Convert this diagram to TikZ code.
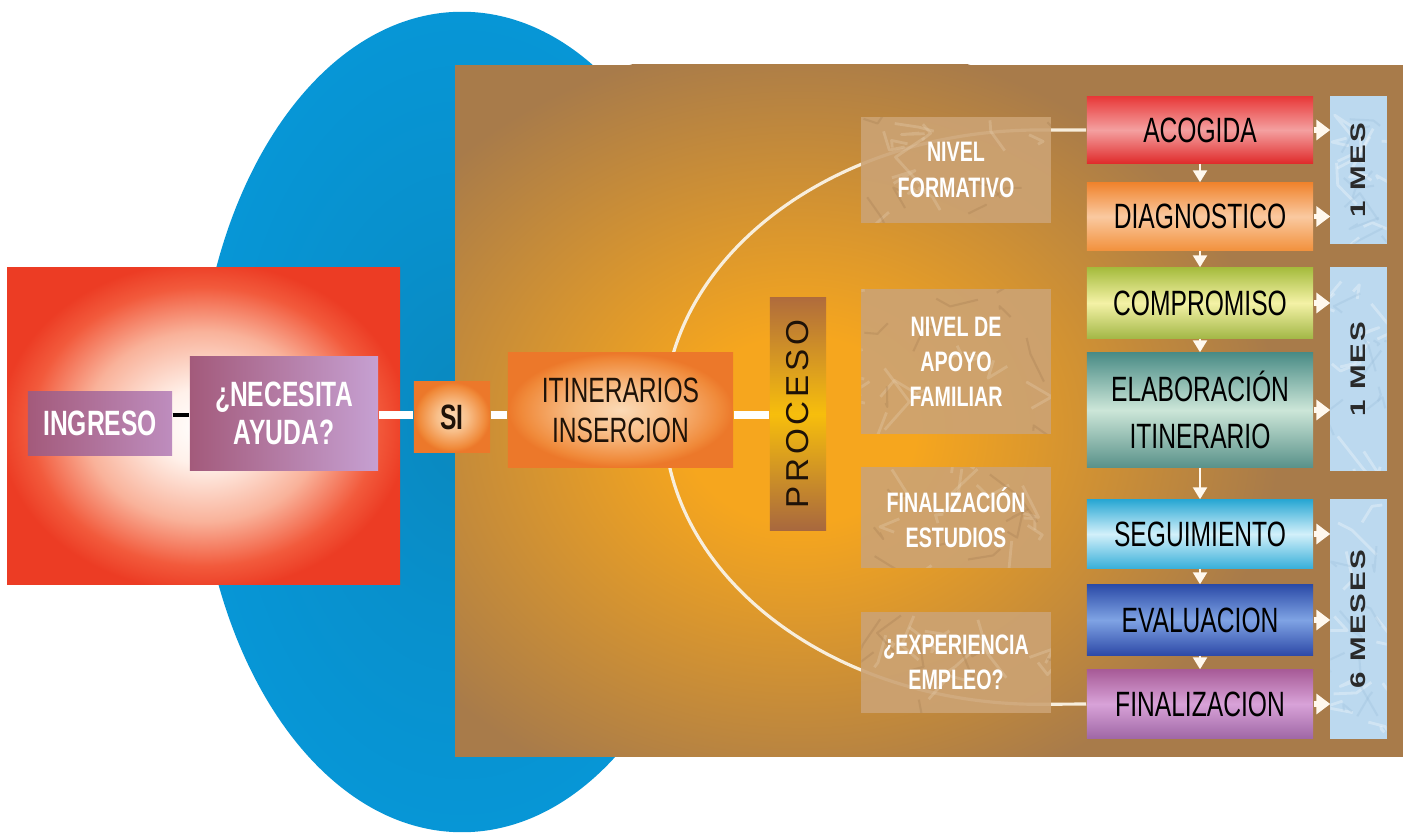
\documentclass[tikz,border=0pt]{standalone}
\usepackage{fontspec}
\usepackage{graphicx}
\setmainfont{Liberation Sans}
\newfontfamily\cond{Liberation Sans}[FakeStretch=0.7]
\newfontfamily\procfont{Liberation Sans}[FakeStretch=1.05,LetterSpace=12]
\newfontfamily\mesfont{Liberation Sans}[FakeStretch=1.4,LetterSpace=10]
\usetikzlibrary{arrows.meta,calc}

\definecolor{blueE}{HTML}{0796D6}
\definecolor{blueM}{HTML}{0890CC}
\definecolor{blueD}{HTML}{0A88BE}
\definecolor{brownbg}{HTML}{A87B4A}
\definecolor{glowC}{HTML}{F6A61E}
\definecolor{rg1}{HTML}{FFF1EA}
\definecolor{rg2}{HTML}{F9B29A}
\definecolor{rg3}{HTML}{F25A3C}
\definecolor{rg4}{HTML}{EC3C24}
\definecolor{og0}{HTML}{FBDAB6}
\definecolor{og1}{HTML}{F8BF8A}
\definecolor{og2}{HTML}{F08A3A}
\definecolor{og3}{HTML}{EC782A}
\definecolor{mauveL}{HTML}{A35A7B}
\definecolor{mauveR}{HTML}{BE8DBE}
\definecolor{mauveR2}{HTML}{C6A0D2}
\definecolor{darktext}{HTML}{1E1208}
\definecolor{procT}{HTML}{B06C3C}
\definecolor{procM}{HTML}{F7BE0C}
\definecolor{procB}{HTML}{A8683E}
\definecolor{tanC}{HTML}{CCA374}
\definecolor{tanL}{HTML}{E8D2B4}
\definecolor{tanD}{HTML}{A47C50}
\definecolor{mesB}{HTML}{BCD9EF}
\definecolor{mesD}{HTML}{9ABDDA}
\definecolor{mestext}{HTML}{2A2A2A}
\definecolor{arrW}{HTML}{FFF8EE}
\definecolor{curveW}{HTML}{F8EEDC}
\definecolor{acoT}{HTML}{E83A3A}\definecolor{acoM}{HTML}{F4A0A0}\definecolor{acoB}{HTML}{E02C2C}
\definecolor{diaT}{HTML}{F0842E}\definecolor{diaM}{HTML}{FAC9A0}\definecolor{diaB}{HTML}{F2923E}
\definecolor{comT}{HTML}{A6BC3E}\definecolor{comM}{HTML}{F4F2A6}\definecolor{comB}{HTML}{A4B848}
\definecolor{elaT}{HTML}{4A8C86}\definecolor{elaM}{HTML}{CCE6D8}\definecolor{elaB}{HTML}{5A928A}
\definecolor{segT}{HTML}{2AA8D4}\definecolor{segM}{HTML}{D2F0FA}\definecolor{segB}{HTML}{3AB0DA}
\definecolor{evaT}{HTML}{2C4CA8}\definecolor{evaM}{HTML}{7FA3E4}\definecolor{evaB}{HTML}{2E4AA8}
\definecolor{finT}{HTML}{A85C98}\definecolor{finM}{HTML}{D8A2D8}\definecolor{finB}{HTML}{A068A6}

\pgfdeclareradialshading{redglow}{\pgfpoint{0bp}{0bp}}{color(0bp)=(white); color(6bp)=(rg1); color(15bp)=(rg2); color(22bp)=(rg3); color(26bp)=(rg4); color(50bp)=(rg4)}
\pgfdeclareradialshading{orangeglow}{\pgfpoint{0bp}{0bp}}{color(0bp)=(og0); color(10bp)=(og1); color(22bp)=(og2); color(25bp)=(og3); color(50bp)=(og3)}
\pgfdeclareradialshading{bgglow}{\pgfpoint{0bp}{0bp}}{color(0bp)=(glowC); color(6bp)=(glowC); color(25bp)=(brownbg); color(50bp)=(brownbg)}
\pgfdeclareradialshading{blueglow}{\pgfpoint{0bp}{0bp}}{color(0bp)=(blueD); color(12bp)=(blueM); color(25bp)=(blueE); color(50bp)=(blueE)}

\pgfdeclarelayer{back}
\pgfdeclarelayer{mid}
\pgfsetlayers{back,mid,main}

\tikzset{
  pinkbox/.style={inner sep=0pt, text=white, align=center,
    font=\cond\bfseries\fontsize{10}{10.8}\selectfont},
  orangebox/.style={inner sep=0pt, shade, shading=orangeglow, text=darktext, align=center},
  stackbox/.style={inner sep=0pt, minimum width=2.26cm, text=black, align=center,
    font=\cond\fontsize{10}{13.4}\selectfont},
  tanbox/.style={inner sep=0pt, minimum width=1.88cm, text=white, align=center,
    font=\cond\bfseries\fontsize{8}{10}\selectfont},
  mesbox/.style={inner sep=0pt, minimum width=0.55cm, text=mestext,
    font=\mesfont\bfseries\fontsize{6}{7}\selectfont},
  blackline/.style={draw=black, line width=0.9pt},
  wline/.style={draw=white, line width=2.3pt},
  curveline/.style={draw=curveW, line width=0.9pt},
  darr/.style={draw=arrW, line width=0.7pt, -{Triangle[width=1.4mm,length=1.2mm]}},
  rarr/.style={draw=arrW, line width=1.6pt, -{Triangle[width=2mm,length=1.4mm]}},
}

\newcommand\crumple[6]{%
  \fill[#2] (#1.north west) rectangle (#1.south east);
  \begin{scope}
    \clip (#1.north west) rectangle (#1.south east);
    \foreach \k in {1,...,12}{%
      \draw[#3, line width=0.8pt, opacity=0.3, line join=round]
        ($(#1.north west)+({rnd*#5},{rnd*#6})$) -- ++({(rnd-0.5)*60},{(rnd-0.3)*50}) -- ++({(rnd-0.5)*50},{(rnd-0.3)*40});
    }
    \foreach \k in {1,...,8}{%
      \draw[#4, line width=0.6pt, opacity=0.3, line join=round]
        ($(#1.north west)+({rnd*#5},{rnd*#6})$) -- ++({(rnd-0.5)*60},{(rnd-0.3)*50}) -- ++({(rnd-0.5)*40},{(rnd-0.3)*40});
    }
  \end{scope}}

\begin{document}
\begin{tikzpicture}[x=0.01cm,y=-0.01cm]
\pgfmathsetseed{11}
\begin{pgfonlayer}{back}
  \fill[white] (0,0) rectangle (1409,832);
  \shade[shading=blueglow] (462,422) ellipse [x radius=2.65cm, y radius=4.10cm];
  \fill[brownbg] (455,65) rectangle (1403,757);
  \begin{scope}
    \clip (455,65) rectangle (1403,757);
    \shade[shading=bgglow] (800,430) ellipse [x radius=4.8cm, y radius=3.9cm];
  \end{scope}
  \shade[shading=redglow] (7,268) rectangle (400,585);
\end{pgfonlayer}
\useasboundingbox (0,0) rectangle (1409,832);

% left part
\node[pinkbox, left color=mauveL, right color=mauveR, minimum width=1.44cm, minimum height=0.63cm] (ingreso) at (100,423.5) {INGRESO};
\node[pinkbox, left color=mauveL, right color=mauveR2, minimum width=1.88cm, minimum height=1.13cm] (necesita) at (284,413.5) {¿NECESITA\\AYUDA?};
\node[orangebox, minimum width=0.76cm, minimum height=0.70cm, font=\cond\bfseries\fontsize{10}{11}\selectfont] (si) at (452,417) {SI};
\node[orangebox, minimum width=2.25cm, minimum height=1.14cm, font=\cond\fontsize{10}{11.4}\selectfont] (itin) at (620.5,410) {ITINERARIOS\\INSERCION};
\node[inner sep=0pt, minimum width=0.56cm, minimum height=2.32cm, top color=procT, bottom color=procB, middle color=procM, text=darktext] (proceso) at (798,414) {\rotatebox{90}{\procfont\fontsize{9}{10}\selectfont PROCESO}};

% middle text boxes
\node[tanbox, minimum height=1.04cm] (nivelf) at (956,170) {NIVEL\\FORMATIVO};
\node[tanbox, minimum height=1.43cm] (nivela) at (956,361.5) {NIVEL DE\\APOYO\\FAMILIAR};
\node[tanbox, minimum height=0.99cm] (finest) at (956,517.5) {FINALIZACIÓN\\ESTUDIOS};
\node[tanbox, minimum height=0.99cm] (exper) at (956,662.5) {¿EXPERIENCIA\\EMPLEO?};

% stack
\node[stackbox, minimum height=0.66cm, top color=acoT, bottom color=acoB, middle color=acoM] (acogida) at (1200,130) {ACOGIDA};
\node[stackbox, minimum height=0.67cm, top color=diaT, bottom color=diaB, middle color=diaM] (diag) at (1200,216.5) {DIAGNOSTICO};
\node[stackbox, minimum height=0.70cm, top color=comT, bottom color=comB, middle color=comM] (comp) at (1200,303) {COMPROMISO};
\node[stackbox, minimum height=1.14cm, top color=elaT, bottom color=elaB, middle color=elaM] (elab) at (1200,410) {ELABORACIÓN\\ITINERARIO};
\node[stackbox, minimum height=0.68cm, top color=segT, bottom color=segB, middle color=segM] (segu) at (1200,534) {SEGUIMIENTO};
\node[stackbox, minimum height=0.70cm, top color=evaT, bottom color=evaB, middle color=evaM] (eval) at (1200,620) {EVALUACION};
\node[stackbox, minimum height=0.68cm, top color=finT, bottom color=finB, middle color=finM] (final) at (1200,704) {FINALIZACION};

% months
\node[mesbox, minimum height=1.46cm] (m1) at (1358.5,170) {\rotatebox{90}{1 MES}};
\node[mesbox, minimum height=2.02cm] (m2) at (1358.5,369) {\rotatebox{90}{1 MES}};
\node[mesbox, minimum height=2.38cm] (m3) at (1358.5,619) {\rotatebox{90}{6 MESES}};

\begin{pgfonlayer}{mid}
  \crumple{nivelf}{tanC,fill opacity=0.9}{tanL}{tanD}{188}{104}
  \crumple{nivela}{tanC,fill opacity=0.9}{tanL}{tanD}{188}{143}
  \crumple{finest}{tanC,fill opacity=0.9}{tanL}{tanD}{188}{99}
  \crumple{exper}{tanC,fill opacity=0.9}{tanL}{tanD}{188}{99}
  \crumple{m1}{mesB}{white}{mesD}{55}{146}
  \crumple{m2}{mesB}{white}{mesD}{55}{202}
  \crumple{m3}{mesB}{white}{mesD}{55}{238}
\end{pgfonlayer}

\begin{pgfonlayer}{back}
  \draw[curveline] (acogida.west) -- ++(-47,0)
    arc[start angle=90, end angle=270, x radius=3.75cm, y radius=2.87cm] -- (final.west);
\end{pgfonlayer}

% connectors left
\draw[blackline] (ingreso.east |- 0,415) -- (necesita.west |- 0,415);
\draw[wline] (necesita.east |- 0,415) -- (si.west |- 0,415);
\draw[wline] (si.east |- 0,415) -- (itin.west |- 0,415);
\draw[wline] (itin.east |- 0,415) -- (proceso.west |- 0,415);

% down arrows
\draw[darr] (acogida.south) -- (diag.north);
\draw[darr] (diag.south) -- (comp.north);
\draw[darr] (comp.south) -- (elab.north);
\draw[darr] (elab.south) -- (segu.north);
\draw[darr] (segu.south) -- (eval.north);
\draw[darr] (eval.south) -- (final.north);

% right arrows
\draw[rarr] (acogida.east) -- (acogida.east -| m1.west);
\draw[rarr] (diag.east) -- (diag.east -| m1.west);
\draw[rarr] (comp.east) -- (comp.east -| m2.west);
\draw[rarr] (elab.east) -- (elab.east -| m2.west);
\draw[rarr] (segu.east) -- (segu.east -| m3.west);
\draw[rarr] (eval.east) -- (eval.east -| m3.west);
\draw[rarr] (final.east) -- (final.east -| m3.west);
\end{tikzpicture}
\end{document}
